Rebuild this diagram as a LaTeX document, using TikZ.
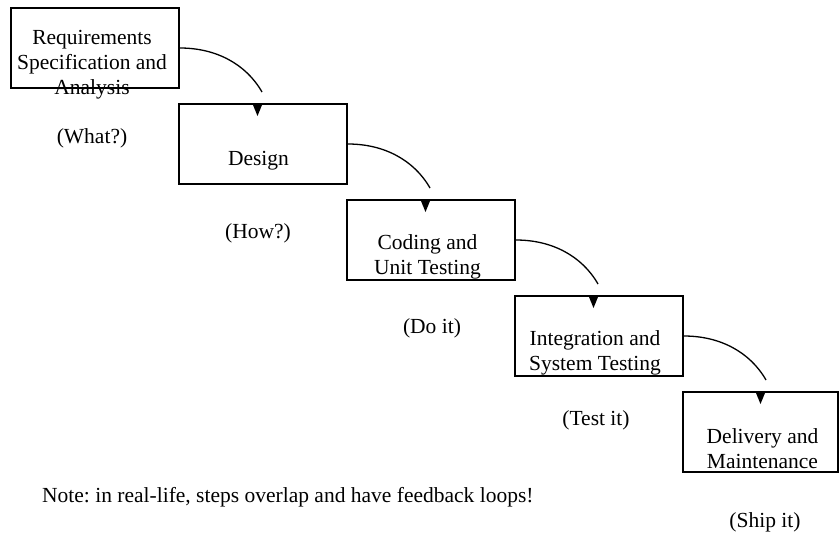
\documentclass[tikz,border=0pt]{standalone}
\usepackage{fontspec}
\setmainfont{Liberation Serif}
\begin{document}
\frenchspacing
\begin{tikzpicture}[x=1pt,y=-1pt,
  stagebox/.style={draw=black,line width=2pt,minimum width=168pt,minimum height=80pt,inner sep=0pt},
  stagetext/.style={align=center,inner sep=0pt,font=\fontsize{21.5}{25}\selectfont},
  notetext/.style={inner sep=0pt,font=\fontsize{21.5}{25}\selectfont},
  flow/.style={line width=1.3pt},
  tip/.style={fill=black}]
\useasboundingbox (0,0) rectangle (840,536);
% boxes
\node[stagebox] (b1) at (95,48) {};
\node[stagebox] (b2) at (263,144) {};
\node[stagebox] (b3) at (431,240) {};
\node[stagebox] (b4) at (599,336) {};
\node[stagebox,minimum width=155pt] (b5) at (760.5,432) {};
% box texts
\node[stagetext] (t1) at ([shift={(-3,17)}]b1.center) {Requirements\\Specification and\\Analysis};
\node[stagetext] (t2) at ([shift={(-4.5,16.5)}]b2.center) {Design};
\node[stagetext] (t3) at ([shift={(-3.5,16.5)}]b3.center) {Coding and\\Unit Testing};
\node[stagetext] (t4) at ([shift={(-4,16.5)}]b4.center) {Integration and\\System Testing};
\node[stagetext] (t5) at ([shift={(2,16.5)}]b5.center) {Delivery and\\Maintenance};
% labels
\node[notetext] (l1) at (92,138) {(What?)};
\node[notetext] (l2) at (258,233) {(How?)};
\node[notetext] (l3) at (432,328) {(Do it)};
\node[notetext] (l4) at (596,420) {(Test it)};
\node[notetext] (l5) at (765,522) {(Ship it)};
\node[notetext,anchor=west] (note) at (42,497) {Note: in real-life, steps overlap and have feedback loops!};
% connectors
\foreach \a/\b in {b1/b2,b2/b3,b3/b4}{
  \coordinate (e-\a) at ([shift={(82,44)}]\a.east);
  \draw[flow] (\a.east) .. controls ([shift={(36,0)}]\a.east) and ([shift={(66,16)}]\a.east) .. (e-\a);
  \fill[tip] ([shift={(-10,2)}]\b.north) -- ([shift={(-1,2)}]\b.north) -- ([shift={(-5.5,13)}]\b.north) -- cycle;
}
\coordinate (e-b4) at ([shift={(82,44)}]b4.east);
\draw[flow] (b4.east) .. controls ([shift={(36,0)}]b4.east) and ([shift={(66,16)}]b4.east) .. (e-b4);
\fill[tip] ([shift={(-4.5,2)}]b5.north) -- ([shift={(4.5,2)}]b5.north) -- ([shift={(0,13)}]b5.north) -- cycle;
\end{tikzpicture}
\end{document}
